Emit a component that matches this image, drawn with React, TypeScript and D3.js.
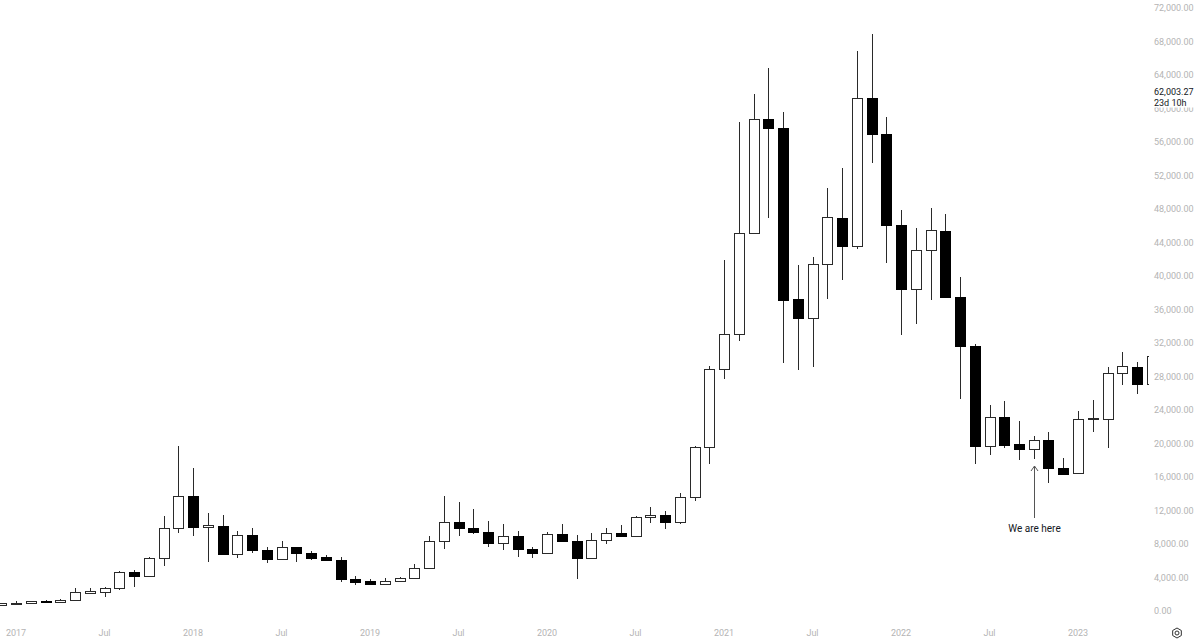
import React from "react";
import * as d3 from "d3";

// Monthly candles, Dec 2016 .. Jun 2023 (index 0 = Dec 2016)
const months = [
  "2016-12",
  "2017-01","2017-02","2017-03","2017-04","2017-05","2017-06","2017-07","2017-08","2017-09","2017-10","2017-11","2017-12",
  "2018-01","2018-02","2018-03","2018-04","2018-05","2018-06","2018-07","2018-08","2018-09","2018-10","2018-11","2018-12",
  "2019-01","2019-02","2019-03","2019-04","2019-05","2019-06","2019-07","2019-08","2019-09","2019-10","2019-11","2019-12",
  "2020-01","2020-02","2020-03","2020-04","2020-05","2020-06","2020-07","2020-08","2020-09","2020-10","2020-11","2020-12",
  "2021-01","2021-02","2021-03","2021-04","2021-05","2021-06","2021-07","2021-08","2021-09","2021-10","2021-11","2021-12",
  "2022-01","2022-02","2022-03","2022-04","2022-05","2022-06","2022-07","2022-08","2022-09","2022-10","2022-11","2022-12",
  "2023-01","2023-02","2023-03","2023-04","2023-05","2023-06",
];

const opens = [
  750,
  960, 975, 1180, 1080, 1300, 2200, 2230, 2700, 4620, 4220, 6290, 9870,
  13730, 9990, 10190, 6770, 9070, 7320, 6170, 7600, 6890, 6410, 6090, 3860,
  3550, 3260, 3620, 3940, 5150, 8322, 10590, 9950, 9470, 8160, 8990, 7400,
  6970, 9230, 8360, 6290, 8440, 9310, 8955, 11220, 11460, 10630, 13650, 19580,
  28900, 33040, 45170, 58700, 57710, 37210, 34950, 41390, 46960, 43620, 61200, 56920,
  46090, 38410, 43100, 45410, 37530, 31680, 19740, 23160, 19900, 19300, 20420, 17040,
  16440, 22960, 22960, 28380, 29170, 27070,
];

const highs = [
  1000,
  1160, 1200, 1350, 1420, 2710, 2780, 2900, 4750, 4950, 6400, 11340, 19700,
  17110, 11660, 11460, 9550, 9870, 7680, 8360, 7650, 7200, 6690, 6480, 4140,
  3860, 3980, 4050, 5570, 8955, 13731, 13050, 12140, 10780, 10350, 9510, 7680,
  9430, 10350, 9070, 9310, 9950, 10270, 11400, 12380, 11900, 14050, 19700, 29300,
  41900, 58350, 61700, 64800, 59550, 41270, 42310, 50470, 52900, 66900, 68900, 59020,
  47880, 45770, 48080, 47360, 39840, 31840, 24560, 25070, 22680, 20940, 21340, 18300,
  23920, 25190, 29100, 30960, 29700, 31400,
];

const lows = [
  740,
  770, 920, 900, 1070, 1290, 1990, 1710, 2550, 2900, 4100, 5410, 9350,
  8990, 5820, 6650, 6370, 6970, 5690, 6050, 5820, 6090, 6010, 3430, 3070,
  3220, 3200, 3560, 3900, 5100, 7366, 8955, 9190, 7680, 7250, 6450, 6370,
  6800, 8300, 3780, 6150, 7960, 8870, 8900, 10470, 9750, 10400, 13100, 17550,
  27660, 32280, 44980, 46960, 29570, 28780, 29170, 37250, 39520, 43260, 53450, 41590,
  32960, 34270, 37130, 37530, 25310, 17510, 18630, 19420, 18030, 18150, 15320, 16240,
  16300, 21340, 19500, 26990, 25870, 24800,
];

const closes = [
  990,
  975, 1180, 1080, 1340, 2250, 2420, 2750, 4620, 4220, 6290, 9870, 13730,
  9990, 10230, 6770, 9070, 7280, 6170, 7600, 6890, 6350, 6130, 3780, 3460,
  3260, 3620, 3940, 5170, 8360, 10590, 9910, 9470, 8160, 8990, 7400, 6970,
  9150, 8360, 6290, 8440, 9350, 8990, 11260, 11500, 10630, 13650, 19550, 28900,
  33040, 45170, 58700, 57710, 37130, 34950, 41390, 47080, 43620, 61200, 56920, 46090,
  38410, 43100, 45490, 37530, 31680, 19740, 23160, 19820, 19300, 20420, 17040, 16360,
  22960, 23000, 28380, 29250, 27070, 30450,
];

const xTickMonths = ["2017-01","2017-07","2018-01","2018-07","2019-01","2019-07","2020-01","2020-07","2021-01","2021-07","2022-01","2022-07","2023-01"];
const xTickLabels = ["2017","Jul","2018","Jul","2019","Jul","2020","Jul","2021","Jul","2022","Jul","2023"];

const yTickValues = [0,4000,8000,12000,16000,20000,24000,28000,32000,36000,40000,44000,48000,52000,56000,60000,64000,68000,72000];

const lastPriceText = "62,003.27";
const countdownText = "23d 10h";
const noteMonth = "2022-10";
const noteText = "We are here";

const FONT = "Roboto, 'Liberation Sans', Arial, sans-serif";

export default function App() {
  const W = 1200, H = 643;
  const plotRight = 1149;
  const x = d3.scaleLinear().domain([1, 73]).range([16, 1078]);
  const y = d3.scaleLinear().domain([0, 72000]).range([611, 8]);
  const fmt = d3.format(",.2f");

  const candles = months.map((m, i) => ({
    m, i, o: opens[i], h: highs[i], l: lows[i], c: closes[i],
  }));

  const noteIdx = months.indexOf(noteMonth);
  const noteX = Math.round(x(noteIdx)) + 0.5;
  const arrowTop = Math.round(y(lows[noteIdx])) + 7;

  return (
    <svg width={W} height={H} style={{ position: "absolute", left: 0, top: 0, background: "#fff" }} fontFamily={FONT}>
      <defs>
        <clipPath id="plotClip">
          <rect x={0} y={0} width={plotRight} height={620} />
        </clipPath>
      </defs>
      <rect x={0} y={0} width={W} height={H} fill="#fff" />
      <g clipPath="url(#plotClip)">
        {candles.map((d) => {
          const cx = Math.round(x(d.i));
          const up = d.c >= d.o;
          const top = Math.round(y(Math.max(d.o, d.c)));
          const bot = Math.round(y(Math.min(d.o, d.c)));
          const hgt = Math.max(1, bot - top);
          return (
            <g key={d.m}>
              <line x1={cx + 0.5} x2={cx + 0.5} y1={Math.round(y(d.h))} y2={Math.round(y(d.l))} stroke="#2a2a2a" strokeWidth={1} />
              <rect x={cx - 4.5} y={top + 0.5} width={10} height={hgt} fill={up ? "#ffffff" : "#000000"} stroke={up ? "#2a2a2a" : "#000000"} strokeWidth={1} />
            </g>
          );
        })}
      </g>

      {/* price axis labels */}
      {yTickValues.map((v) => (
        <text key={v} x={1154} y={y(v)} dy="0.35em" fontSize={9} fill="#b4b4b4">{fmt(v)}</text>
      ))}

      {/* last price label covering part of 60,000 */}
      <rect x={1150} y={84} width={50} height={23.5} fill="#fff" />
      <text x={1154} y={92} dy="0.35em" fontSize={9} fill="#131722">{lastPriceText}</text>
      <text x={1154} y={102.5} dy="0.35em" fontSize={9} fill="#131722">{countdownText}</text>

      {/* time axis labels */}
      {xTickMonths.map((m, k) => (
        <text key={m} x={x(months.indexOf(m))} y={633} dy="0.35em" fontSize={9} fill="#b4b4b4" textAnchor="middle">{xTickLabels[k]}</text>
      ))}

      {/* annotation */}
      <g stroke="#555" strokeWidth={1} fill="none">
        <line x1={noteX} x2={noteX} y1={arrowTop} y2={arrowTop + 52} />
        <polyline points={`${noteX - 3.5},${arrowTop + 5} ${noteX},${arrowTop} ${noteX + 3.5},${arrowTop + 5}`} />
      </g>
      <text x={noteX} y={528} dy="0.35em" fontSize={10} fill="#131722" textAnchor="middle">{noteText}</text>

      {/* settings icon */}
      <g transform="translate(1177,633)" stroke="#333" strokeWidth={1} fill="none">
        <polygon points={d3.range(6).map((k) => { const a = Math.PI / 6 + k * Math.PI / 3; return `${(5 * Math.cos(a)).toFixed(2)},${(5 * Math.sin(a)).toFixed(2)}`; }).join(" ")} />
        <circle r={2} />
      </g>
    </svg>
  );
}
